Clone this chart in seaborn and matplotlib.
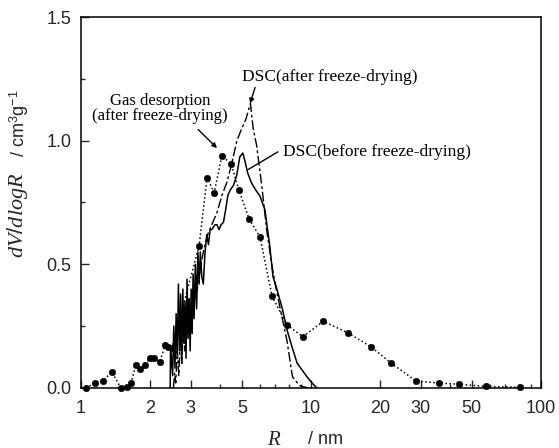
import numpy as np
import pandas as pd
import matplotlib
matplotlib.use("Agg")
import matplotlib.pyplot as plt
import seaborn as sns
from matplotlib.ticker import FixedLocator, NullFormatter, FixedFormatter

# gas desorption (after freeze-drying)
gas_R = [1.05, 1.15, 1.25, 1.36, 1.49, 1.58, 1.65, 1.73, 1.80, 1.90, 1.99, 2.08, 2.20,
         2.32, 2.39, 2.48, 3.26, 3.53, 3.79, 4.10, 4.49, 4.86, 5.37, 6.0, 6.77, 7.86,
         9.22, 11.3, 14.5, 18.2, 22.3, 28.6, 36.0, 44.0, 57.6, 81.0]
gas_V = [0.0, 0.02, 0.03, 0.065, 0.0, 0.005, 0.02, 0.093, 0.075, 0.093, 0.12, 0.12, 0.105,
         0.175, 0.167, 0.16, 0.575, 0.85, 0.79, 0.94, 0.905, 0.80, 0.685, 0.61, 0.37, 0.255,
         0.207, 0.27, 0.222, 0.167, 0.10, 0.028, 0.02, 0.015, 0.006, 0.003]

# DSC before freeze-drying
before_R = [2.44, 2.45, 2.50, 2.53, 2.56, 2.59, 2.62, 2.65, 2.68, 2.71, 2.74, 2.77, 2.80,
            2.83, 2.86, 2.89, 2.92, 2.95, 2.98, 3.01, 3.04, 3.07, 3.10, 3.14, 3.18, 3.22,
            3.26, 3.30, 3.35, 3.40, 3.46, 3.52, 3.58, 3.64, 3.70, 3.76, 3.82, 3.90, 3.98,
            4.06, 4.16, 4.25, 4.35, 4.45, 4.60, 4.75, 4.90, 5.05, 5.15, 5.30, 5.50, 5.75,
            6.0, 6.3, 6.6, 6.83, 7.1, 7.5, 7.86, 8.3, 8.7, 9.1, 9.6, 10.1, 10.6]
before_V = [0.0, 0.17, 0.05, 0.25, 0.08, 0.30, 0.12, 0.42, 0.15, 0.38, 0.10, 0.40, 0.18,
            0.35, 0.12, 0.44, 0.20, 0.36, 0.15, 0.40, 0.22, 0.46, 0.28, 0.50, 0.32, 0.55,
            0.42, 0.55, 0.45, 0.42, 0.55, 0.62, 0.58, 0.64, 0.64, 0.65, 0.66, 0.66, 0.64,
            0.66, 0.67, 0.72, 0.78, 0.80, 0.82, 0.86, 0.935, 0.95, 0.92, 0.87, 0.83, 0.80,
            0.775, 0.72, 0.58, 0.45, 0.40, 0.32, 0.235, 0.16, 0.10, 0.075, 0.045, 0.02, 0.0]

# DSC after freeze-drying
after_R = [2.52, 2.55, 2.58, 2.62, 2.66, 2.70, 2.74, 2.78, 2.82, 2.86, 2.90, 2.95, 3.0,
           3.05, 3.1, 3.2, 3.3, 3.4, 3.55, 3.7, 3.9, 4.1, 4.3, 4.5, 4.76, 5.0, 5.2, 5.45,
           5.6, 5.8, 6.1, 6.43, 6.8, 7.1, 7.5, 7.86, 8.3, 8.9, 9.7]
after_V = [0.0, 0.06, 0.02, 0.15, 0.05, 0.22, 0.10, 0.30, 0.15, 0.33, 0.22, 0.36, 0.28,
           0.40, 0.35, 0.40, 0.48, 0.55, 0.62, 0.66, 0.71, 0.78, 0.83, 0.90, 1.0, 1.05,
           1.085, 1.15, 1.05, 0.98, 0.82, 0.63, 0.48, 0.385, 0.28, 0.19, 0.045, 0.01, 0.0]

x_ticks = [1, 2, 3, 5, 10, 20, 30, 50, 100]
y_ticks = [0.0, 0.5, 1.0, 1.5]

gas = pd.DataFrame({"R": gas_R, "V": gas_V})
before = pd.DataFrame({"R": before_R, "V": before_V})
after = pd.DataFrame({"R": after_R, "V": after_V})

sns.set_style("ticks")
plt.rcParams["font.family"] = ["Liberation Sans", "DejaVu Sans"]
plt.rcParams["mathtext.fontset"] = "custom"
plt.rcParams["mathtext.rm"] = "Liberation Sans"
plt.rcParams["mathtext.it"] = "Liberation Serif:italic"

fig = plt.figure(figsize=(5.59, 4.48), dpi=100)
ax = fig.add_axes([0.145, 0.134, 0.823, 0.828])

sns.lineplot(data=gas, x="R", y="V", ax=ax, color="black", linestyle=":", lw=1.1,
             estimator=None, sort=False)
sns.scatterplot(data=gas, x="R", y="V", ax=ax, color="black", s=22, edgecolor="black",
                zorder=5, clip_on=False)
sns.lineplot(data=before, x="R", y="V", ax=ax, color="black", lw=1.1,
             estimator=None, sort=False)
sns.lineplot(data=after, x="R", y="V", ax=ax, color="black", lw=1.0,
             estimator=None, sort=False)
ax.lines[-1].set_dashes((7, 2, 2, 2))

ax.set_xscale("log")
ax.set_xlim(1, 100)
ax.set_ylim(0, 1.5)

ax.xaxis.set_major_locator(FixedLocator(x_ticks))
ax.xaxis.set_major_formatter(FixedFormatter([str(m) for m in x_ticks]))
ax.xaxis.set_minor_locator(FixedLocator([4, 6, 7, 8, 9, 40, 60, 70, 80, 90]))
ax.xaxis.set_minor_formatter(NullFormatter())
ax.yaxis.set_major_locator(FixedLocator(y_ticks))
ax.yaxis.set_major_formatter(FixedFormatter([f"{v:.1f}" for v in y_ticks]))
ax.yaxis.set_minor_locator(FixedLocator([0.25, 0.75, 1.25]))

ax.tick_params(which="major", direction="in", length=6, width=1, labelsize=13, pad=7)
ax.tick_params(axis="x", which="major", pad=9)
ax.tick_params(which="minor", direction="in", length=3, width=1)
for s in ax.spines.values():
    s.set_linewidth(1.1)
    s.set_color("black")

ax.set_xlabel("")
ax.set_ylabel("")
fig.text(0.49, 0.018, "$R$", fontsize=15, ha="center", va="center")
fig.text(0.551, 0.018, "/ nm", fontsize=13, ha="left", va="center")
fig.text(0.032, 0.52, "$dV/dlogR$", fontsize=16, rotation=90, ha="center", va="center")
fig.text(0.034, 0.725, "/ cm$^3$g$^{-1}$", fontsize=13, rotation=90, ha="center", va="center")

serif = dict(family="Liberation Serif", color="black")
arrow = dict(arrowstyle="-|>", color="black", lw=1, mutation_scale=7, shrinkA=0, shrinkB=0)

ax.text(12.1, 1.259, "DSC(after freeze-drying)", fontsize=12.5, ha="center", va="center", **serif)
ax.annotate("", xy=(5.43, 1.15), xytext=(5.71, 1.215), arrowprops=arrow)

ax.text(7.55, 0.955, "DSC(before freeze-drying)", fontsize=12.5, ha="left", va="center", **serif)
ax.annotate("", xy=(5.32, 0.883), xytext=(7.18, 0.955),
            arrowprops=dict(arrowstyle="-", color="black", lw=1, shrinkA=0, shrinkB=0))

ax.text(2.21, 1.13, "Gas desorption\n(after freeze-drying)", fontsize=12, ha="center",
        va="center", linespacing=0.95, **serif)
ax.annotate("", xy=(3.90, 0.97), xytext=(3.23, 1.045), arrowprops=arrow)

fig.savefig("out.png", dpi=100)
